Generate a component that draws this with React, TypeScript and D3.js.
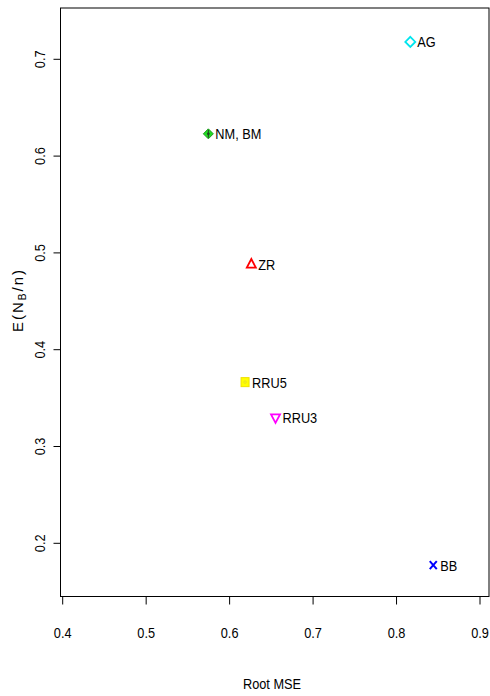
import React from "react";
import * as d3 from "d3";

const methods = ["AG", "NM, BM", "ZR", "RRU5", "RRU3", "BB"];
const rootMSE = [0.8165, 0.5745, 0.626, 0.6185, 0.655, 0.844];
const expNB = [0.718, 0.623, 0.4885, 0.3665, 0.3295, 0.1775];
const shapes = ["diamond", "nmbm", "triangle", "square", "triangleDown", "cross"];
const colors = ["#00e5ee", "#22dd22", "#ff0000", "#ffff00", "#ff00ff", "#0000ff"];
const xTicks = [0.4, 0.5, 0.6, 0.7, 0.8, 0.9];
const yTicks = [0.2, 0.3, 0.4, 0.5, 0.6, 0.7];

const W = 490;
const H = 696;
const FONT = "'Liberation Sans', Arial, Helvetica, sans-serif";
const FS = 15;
const SX = 0.85;

function Marker({ shape, color, x, y }: { shape: string; color: string; x: number; y: number }) {
  const s = 5;
  if (shape === "diamond") {
    return <path d={`M${x},${y - s}L${x + s},${y}L${x},${y + s}L${x - s},${y}Z`} fill="none" stroke={color} strokeWidth={1.8} />;
  }
  if (shape === "nmbm") {
    return (
      <g>
        <path d={`M${x},${y - s}L${x + s},${y}L${x},${y + s}L${x - s},${y}Z`} fill={color} stroke="#229922" strokeWidth={1} />
        <path d={`M${x},${y - s + 1}L${x},${y + s - 1}`} stroke="#224422" strokeWidth={1} />
        <circle cx={x} cy={y} r={1.4} fill="#224422" />
      </g>
    );
  }
  if (shape === "triangle") {
    return <path d={`M${x},${y - 5}L${x + 4.5},${y + 3.5}L${x - 4.5},${y + 3.5}Z`} fill="none" stroke={color} strokeWidth={1.8} />;
  }
  if (shape === "triangleDown") {
    return <path d={`M${x},${y + 5}L${x + 4.5},${y - 3.5}L${x - 4.5},${y - 3.5}Z`} fill="none" stroke={color} strokeWidth={1.8} />;
  }
  if (shape === "square") {
    return (
      <g>
        <rect x={x - 4} y={y - 4.5} width={8} height={9} fill={color} stroke="#f0e000" strokeWidth={1} />
        <circle cx={x} cy={y} r={1.3} fill="none" stroke="#d8cc40" strokeWidth={0.6} />
      </g>
    );
  }
  return <path d={`M${x - 3.5},${y - 4}L${x + 3.5},${y + 4}M${x + 3.5},${y - 4}L${x - 3.5},${y + 4}`} stroke={color} strokeWidth={2} />;
}

export default function App() {
  const x = d3.scaleLinear().domain([0.4, 0.9]).range([62.7, 480]);
  const y = d3.scaleLinear().domain([0.2, 0.7]).range([543.3, 59.3]);
  const left = 60.5, right = 489, top = 8, bottom = 596.5;

  return (
    <svg width={W} height={H} style={{ position: "absolute", left: 0, top: 0, background: "#fff" }} fontFamily={FONT}>
      <rect x={left} y={top} width={right - left} height={bottom - top} fill="none" stroke="#000" strokeWidth={1} />
      {xTicks.map((t) => (
        <g key={"x" + t}>
          <line x1={x(t)} x2={x(t)} y1={bottom} y2={bottom + 8} stroke="#000" />
          <text transform={`translate(${x(t)},638) scale(${SX},1)`} textAnchor="middle" fontSize={FS} fill="#000">{t.toFixed(1)}</text>
        </g>
      ))}
      {yTicks.map((t) => (
        <g key={"y" + t}>
          <line x1={left - 7} x2={left} y1={y(t)} y2={y(t)} stroke="#000" />
          <text transform={`translate(45,${y(t)}) rotate(-90) scale(${SX},1)`} textAnchor="middle" fontSize={FS} fill="#000">{t.toFixed(1)}</text>
        </g>
      ))}
      <text transform={`translate(272,689) scale(${SX},1)`} textAnchor="middle" fontSize={FS} fill="#000">Root MSE</text>
      <text transform={`translate(23,300) rotate(-90)`} textAnchor="middle" fontSize={15} fill="#000" letterSpacing={2}>
        E(N<tspan fontSize={10} dy={3}>B</tspan><tspan dy={-3}>/n)</tspan>
      </text>
      {methods.map((m, i) => {
        const px = x(rootMSE[i]);
        const py = y(expNB[i]);
        return (
          <g key={m}>
            <Marker shape={shapes[i]} color={colors[i]} x={px} y={py} />
            <text transform={`translate(${px + 7},${py + 5.5}) scale(${SX},1)`} fontSize={FS} fill="#000">{m}</text>
          </g>
        );
      })}
    </svg>
  );
}
